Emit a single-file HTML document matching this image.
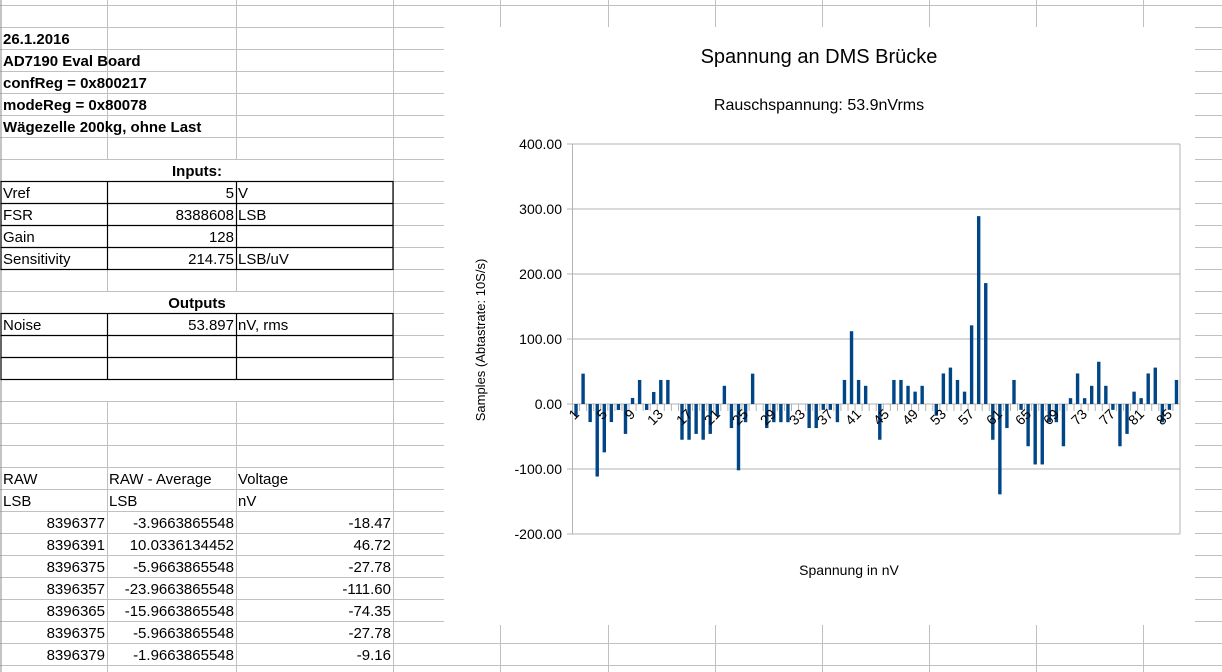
<!DOCTYPE html>
<html><head><meta charset="utf-8"><style>
html,body{margin:0;padding:0;background:#fff;width:1222px;height:672px;overflow:hidden}
svg{display:block}
text{font-family:"Liberation Sans",sans-serif}
</style></head><body>
<svg id="s" width="1222" height="672" xmlns="http://www.w3.org/2000/svg">
<g stroke="#c0c0c0" stroke-width="1" id="grid"></g>
<g stroke="#000" stroke-width="1.2" fill="none">
<rect x="1" y="181.5" width="392" height="88"/>
<line x1="1" y1="203.5" x2="393" y2="203.5"/><line x1="1" y1="225.5" x2="393" y2="225.5"/><line x1="1" y1="247.5" x2="393" y2="247.5"/>
<line x1="107.5" y1="181.5" x2="107.5" y2="269.5"/><line x1="236.5" y1="181.5" x2="236.5" y2="269.5"/>
<rect x="1" y="313.5" width="392" height="66"/>
<line x1="1" y1="335.5" x2="393" y2="335.5"/><line x1="1" y1="357.5" x2="393" y2="357.5"/>
<line x1="107.5" y1="313.5" x2="107.5" y2="379.5"/><line x1="236.5" y1="313.5" x2="236.5" y2="379.5"/>
</g>
<g font-size="15" font-weight="bold" fill="#000">
<text x="3" y="44">26.1.2016</text>
<text x="3" y="66">AD7190 Eval Board</text>
<text x="3" y="88">confReg = 0x800217</text>
<text x="3" y="110">modeReg = 0x80078</text>
<text x="3" y="132">Wägezelle 200kg, ohne Last</text>
<text x="197" y="176" text-anchor="middle">Inputs:</text>
<text x="197" y="308" text-anchor="middle">Outputs</text>
</g>
<g font-size="15" fill="#000">
<text x="3" y="198">Vref</text><text x="234" y="198" text-anchor="end">5</text><text x="238" y="198">V</text>
<text x="3" y="220">FSR</text><text x="234" y="220" text-anchor="end">8388608</text><text x="238" y="220">LSB</text>
<text x="3" y="242">Gain</text><text x="234" y="242" text-anchor="end">128</text>
<text x="3" y="264">Sensitivity</text><text x="234" y="264" text-anchor="end">214.75</text><text x="238" y="264">LSB/uV</text>
<text x="3" y="330">Noise</text><text x="234" y="330" text-anchor="end">53.897</text><text x="238" y="330">nV, rms</text>
<text x="3" y="484">RAW</text><text x="109" y="484">RAW - Average</text><text x="238" y="484">Voltage</text>
<text x="3" y="506">LSB</text><text x="109" y="506">LSB</text><text x="238" y="506">nV</text>
<text x="105" y="528" text-anchor="end">8396377</text><text x="234" y="528" text-anchor="end">-3.9663865548</text><text x="391" y="528" text-anchor="end">-18.47</text>
<text x="105" y="550" text-anchor="end">8396391</text><text x="234" y="550" text-anchor="end">10.0336134452</text><text x="391" y="550" text-anchor="end">46.72</text>
<text x="105" y="572" text-anchor="end">8396375</text><text x="234" y="572" text-anchor="end">-5.9663865548</text><text x="391" y="572" text-anchor="end">-27.78</text>
<text x="105" y="594" text-anchor="end">8396357</text><text x="234" y="594" text-anchor="end">-23.9663865548</text><text x="391" y="594" text-anchor="end">-111.60</text>
<text x="105" y="616" text-anchor="end">8396365</text><text x="234" y="616" text-anchor="end">-15.9663865548</text><text x="391" y="616" text-anchor="end">-74.35</text>
<text x="105" y="638" text-anchor="end">8396375</text><text x="234" y="638" text-anchor="end">-5.9663865548</text><text x="391" y="638" text-anchor="end">-27.78</text>
<text x="105" y="660" text-anchor="end">8396379</text><text x="234" y="660" text-anchor="end">-1.9663865548</text><text x="391" y="660" text-anchor="end">-9.16</text>
<text x="105" y="682" text-anchor="end">8396371</text><text x="234" y="682" text-anchor="end">-9.9663865548</text><text x="391" y="682" text-anchor="end">-46.41</text>
</g>
<rect x="444" y="27" width="751" height="598" fill="#fff"/>
<text x="819" y="63" font-size="20" text-anchor="middle">Spannung an DMS Brücke</text>
<text x="819" y="110" font-size="16" text-anchor="middle">Rauschspannung: 53.9nVrms</text>
<g stroke="#b3b3b3" stroke-width="1">
<line x1="567" y1="144" x2="1180" y2="144"/><line x1="567" y1="209" x2="1180" y2="209"/>
<line x1="567" y1="274" x2="1180" y2="274"/><line x1="567" y1="339" x2="1180" y2="339"/>
<line x1="567" y1="404" x2="1180" y2="404"/><line x1="567" y1="469" x2="1180" y2="469"/>
<line x1="567" y1="534" x2="1180" y2="534"/>
<line x1="572.5" y1="144" x2="572.5" y2="534"/><line x1="1180" y1="144" x2="1180" y2="534"/>
</g>
<g font-size="14" text-anchor="end" fill="#000">
<text x="562" y="149">400.00</text><text x="562" y="214">300.00</text><text x="562" y="279">200.00</text>
<text x="562" y="344">100.00</text><text x="562" y="409">0.00</text><text x="562" y="474">-100.00</text>
<text x="562" y="539">-200.00</text>
</g>
<g id="bars"></g>
<g font-size="14" text-anchor="end" fill="#000">
<text transform="translate(580,415) rotate(-45)">1</text>
<text transform="translate(608,415) rotate(-45)">5</text>
<text transform="translate(636,415) rotate(-45)">9</text>
<text transform="translate(664,415) rotate(-45)">13</text>
<text transform="translate(693,415) rotate(-45)">17</text>
<text transform="translate(721,415) rotate(-45)">21</text>
<text transform="translate(749,415) rotate(-45)">25</text>
<text transform="translate(777,415) rotate(-45)">29</text>
<text transform="translate(806,415) rotate(-45)">33</text>
<text transform="translate(834,415) rotate(-45)">37</text>
<text transform="translate(862,415) rotate(-45)">41</text>
<text transform="translate(890,415) rotate(-45)">45</text>
<text transform="translate(919,415) rotate(-45)">49</text>
<text transform="translate(947,415) rotate(-45)">53</text>
<text transform="translate(975,415) rotate(-45)">57</text>
<text transform="translate(1003,415) rotate(-45)">61</text>
<text transform="translate(1032,415) rotate(-45)">65</text>
<text transform="translate(1060,415) rotate(-45)">69</text>
<text transform="translate(1088,415) rotate(-45)">73</text>
<text transform="translate(1116,415) rotate(-45)">77</text>
<text transform="translate(1145,415) rotate(-45)">81</text>
<text transform="translate(1173,415) rotate(-45)">85</text>
</g>
<text transform="translate(485,340) rotate(-90)" font-size="13" text-anchor="middle">Samples (Abtastrate: 10S/s)</text>
<text x="849" y="575" font-size="14" text-anchor="middle">Spannung in nV</text>
</svg>
<script>
var ns="http://www.w3.org/2000/svg";
function el(p,t,a){var e=document.createElementNS(ns,t);for(var k in a)e.setAttribute(k,a[k]);p.appendChild(e);return e;}
var g=document.getElementById("grid");
for(var n=0;n<31;n++){var y=5.5+22*n;
 if(y<27){el(g,"line",{x1:0,y1:y,x2:1222,y2:y});}
 else{ if(y<625){el(g,"line",{x1:0,y1:y,x2:444,y2:y});el(g,"line",{x1:1195,y1:y,x2:1222,y2:y});}
  else el(g,"line",{x1:0,y1:y,x2:1222,y2:y});}
}
[107.5,236.5].forEach(function(x){var segs=[[0,159.5],[181.5,291.5],[313.5,379.5],[401.5,672]];segs.forEach(function(s){el(g,"line",{x1:x,y1:s[0],x2:x,y2:s[1]});});});
el(g,"line",{x1:393.5,y1:0,x2:393.5,y2:672});
el(g,"line",{x1:1,y1:0,x2:1,y2:672,stroke:"#888"});
[500,608,715,822,929,1036,1143].forEach(function(x){el(g,"line",{x1:x+.5,y1:0,x2:x+.5,y2:27});el(g,"line",{x1:x+.5,y1:625,x2:x+.5,y2:672});});
var v=[-18.5,46.7,-27.8,-111.6,-74.4,-27.8,-9.2,-46,9.3,37,-9.2,18.5,37,37,0,-55,-55,-46,-55,-46,-18.5,28,-37,-102,-28,46.7,0,-37,-28,-28,-28,0,0,-37,-37,-9,-9,-28,37,112,37,28,0,-55,0,37,37,28,19,28,0,-18,47,56,37,19,121,289,186,-55,-139,-37,37,-9,-65,-93,-93,-28,-28,-65,9,47,9,28,65,28,-9,-65,-46,19,9,47,56,-28,-9,37];
var b=document.getElementById("bars"),w=607.5/86;
for(var i=0;i<=86;i++){var x=572.5+i*w;el(b,"line",{x1:x,y1:404,x2:x,y2:411,stroke:"#b3b3b3"});}
for(var i=0;i<86;i++){var cx=572.5+(i+0.5)*w,h=v[i]*0.65;
 el(b,"rect",{x:cx-1.7,y:h>0?404-h:404,width:3.4,height:Math.abs(h),fill:"#004586"});}
</script>
</body></html>
